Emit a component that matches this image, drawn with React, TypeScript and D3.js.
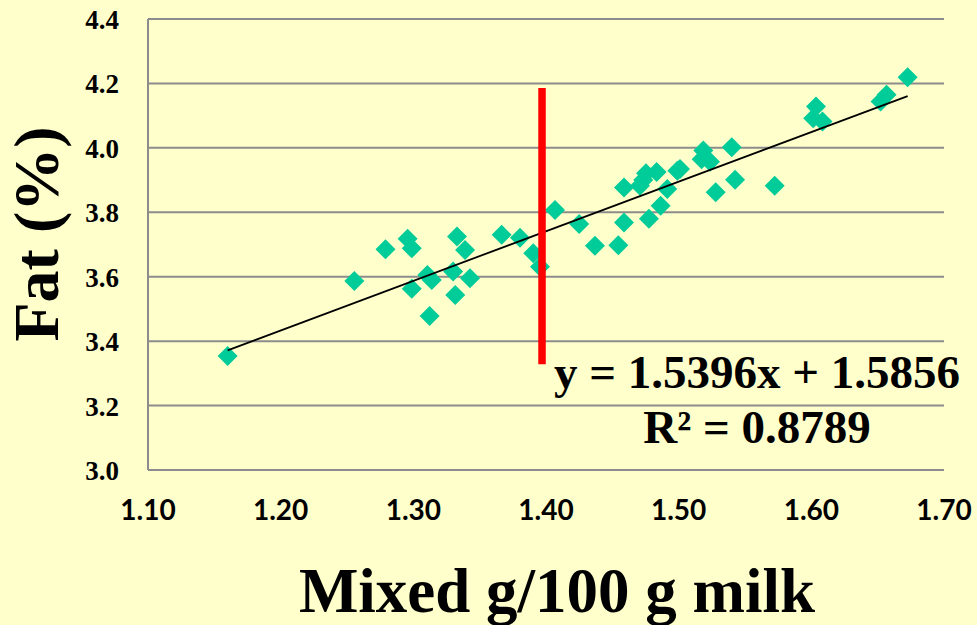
import * as d3 from 'd3';
import React, { useEffect, useRef } from 'react';

// milk solids (g/100 g) vs fat (%)
const mixed = [
  1.160, 1.2555, 1.279, 1.2957, 1.2988, 1.2988, 1.3106, 1.3139, 1.3123, 1.3329,
  1.339, 1.330, 1.3427, 1.3316, 1.3666, 1.3804, 1.3904, 1.3955, 1.4068, 1.425,
  1.4369, 1.4545, 1.4588, 1.4588, 1.4708, 1.4754, 1.4834, 1.4733, 1.4776, 1.4864,
  1.4914, 1.499, 1.501, 1.5186, 1.5173, 1.5236, 1.5279, 1.540, 1.5425, 1.5724,
  1.6035, 1.6014, 1.6084, 1.6522, 1.6567, 1.6726,
];
const fat = [
  3.354, 3.587, 3.685, 3.718, 3.688, 3.563, 3.605, 3.590, 3.478, 3.725,
  3.683, 3.616, 3.595, 3.543, 3.730, 3.721, 3.673, 3.631, 3.807, 3.764,
  3.696, 3.698, 3.768, 3.877, 3.882, 3.921, 3.925, 3.900, 3.780, 3.820,
  3.872, 3.929, 3.934, 3.992, 3.965, 3.957, 3.862, 4.002, 3.901, 3.882,
  4.128, 4.092, 4.082, 4.144, 4.165, 4.219,
];
const xTicks = [1.1, 1.2, 1.3, 1.4, 1.5, 1.6, 1.7];
const yTicks = [3.0, 3.2, 3.4, 3.6, 3.8, 4.0, 4.2, 4.4];
const slope = 1.5396;
const intercept = 1.5856;
const rSquared = 0.8789;
const cutX = 1.397;
const cutRange = [3.328, 4.186];

function App() {
  const ref = useRef<SVGSVGElement>(null);

  useEffect(() => {
    const svg = d3.select(ref.current);
    svg.selectAll('*').remove();

    const W = 977, H = 625;
    const x = d3.scaleLinear().domain([1.1, 1.7]).range([148, 944]);
    const y = d3.scaleLinear().domain([3.0, 4.4]).range([470, 19]);

    svg.append('rect').attr('width', W).attr('height', H).attr('fill', '#FFFFCC');

    // horizontal gridlines
    svg.append('g').selectAll('line').data(yTicks).enter().append('line')
      .attr('x1', x(1.1)).attr('x2', x(1.7))
      .attr('y1', d => y(d)).attr('y2', d => y(d))
      .attr('stroke', '#8c8c8c').attr('stroke-width', 2);
    svg.append('line')
      .attr('x1', x(1.1)).attr('x2', x(1.1))
      .attr('y1', y(4.4)).attr('y2', y(3.0))
      .attr('stroke', '#8c8c8c').attr('stroke-width', 2);

    // y tick labels
    svg.append('g').selectAll('text').data(yTicks).enter().append('text')
      .attr('x', 119).attr('y', d => y(d) + 10)
      .attr('text-anchor', 'end')
      .style('font-family', '"Liberation Serif", "Times New Roman", serif')
      .style('font-weight', 'bold').style('font-size', '27px')
      .text(d => d.toFixed(1));

    // x tick labels
    svg.append('g').selectAll('text').data(xTicks).enter().append('text')
      .attr('x', d => x(d)).attr('y', 520)
      .attr('text-anchor', 'middle')
      .style('font-family', 'Lato, "Open Sans", sans-serif')
      .style('font-weight', 'bold').style('font-size', '28px')
      .text(d => d.toFixed(2));

    // points
    const pts = mixed.map((m, i) => [m, fat[i]]);
    const diamond = d3.symbol().type(d3.symbolSquare).size(200);
    svg.append('g').selectAll('path').data(pts).enter().append('path')
      .attr('d', diamond)
      .attr('transform', d => `translate(${x(d[0])},${y(d[1])}) rotate(45)`)
      .attr('fill', '#00CC99');

    // linear trend
    const [x0, x1] = d3.extent(mixed) as [number, number];
    svg.append('line')
      .attr('x1', x(x0)).attr('y1', y(slope * x0 + intercept))
      .attr('x2', x(x1)).attr('y2', y(slope * x1 + intercept))
      .attr('stroke', 'black').attr('stroke-width', 1.8);

    // red cut line
    svg.append('line')
      .attr('x1', x(cutX)).attr('x2', x(cutX))
      .attr('y1', y(cutRange[1])).attr('y2', y(cutRange[0]))
      .attr('stroke', '#FF0000').attr('stroke-width', 7.5);

    const serif = '"Liberation Serif", "Times New Roman", serif';
    svg.append('text')
      .attr('x', 757).attr('y', 388).attr('text-anchor', 'middle')
      .style('font-family', serif).style('font-weight', 'bold').style('font-size', '47px')
      .text(`y = ${slope}x + ${intercept}`);
    svg.append('text')
      .attr('x', 757).attr('y', 443).attr('text-anchor', 'middle')
      .style('font-family', serif).style('font-weight', 'bold').style('font-size', '47px')
      .text(`R² = ${rSquared}`);

    // axis titles
    svg.append('text')
      .attr('x', 557).attr('y', 612).attr('text-anchor', 'middle')
      .style('font-family', serif).style('font-weight', 'bold').style('font-size', '63px')
      .text('Mixed g/100 g milk');
    svg.append('text')
      .attr('transform', 'translate(58,234) rotate(-90)')
      .attr('text-anchor', 'middle')
      .style('font-family', serif).style('font-weight', 'bold').style('font-size', '64px')
      .text('Fat (%)');
  }, []);

  return (
    <svg ref={ref} width={977} height={625}
      style={{ position: 'absolute', left: 0, top: 0, display: 'block' }} />
  );
}

export default App;
